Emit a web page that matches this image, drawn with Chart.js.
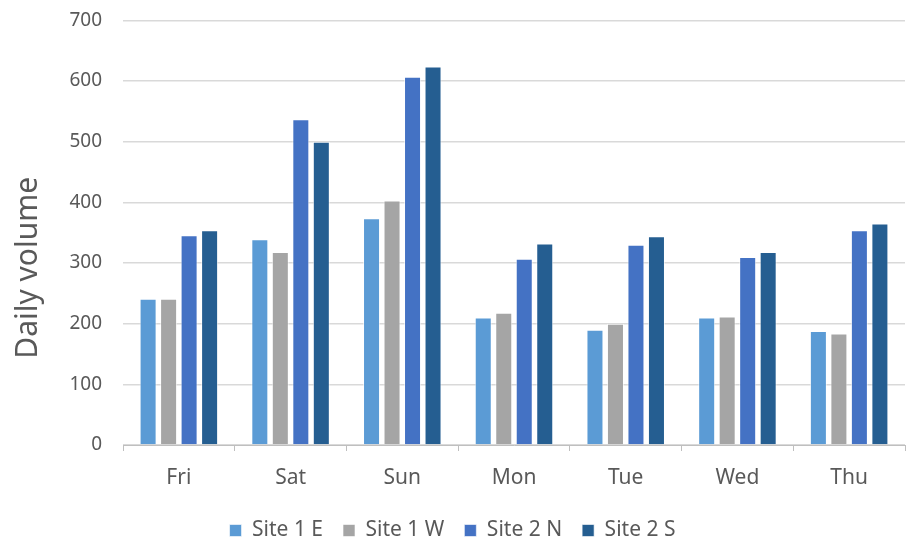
<!DOCTYPE html>
<html>
<head>
<meta charset="utf-8">
<script src="https://cdn.jsdelivr.net/npm/chart.js@4.4.1/dist/chart.umd.min.js"></script>
<style>
  html, body { margin: 0; padding: 0; background: #fff; }
  #wrap { width: 907px; height: 538px; }
</style>
</head>
<body>
<div id="wrap"><canvas id="chart"></canvas></div>
<script>
const days = ["Fri", "Sat", "Sun", "Mon", "Tue", "Wed", "Thu"];
const site1E = [241, 339, 374, 210, 190, 210, 188];
const site1W = [241, 318, 403, 218, 200, 212, 184];
const site2N = [346, 537, 607, 307, 330, 310, 354];
const site2S = [354, 500, 624, 332, 344, 318, 365];
const yTicks = [0, 100, 200, 300, 400, 500, 600, 700];

const font = "'Noto Sans', 'Open Sans', sans-serif";
const grey = "#595959";

function series(label, data, color) {
  return {
    label: label,
    data: data,
    backgroundColor: color,
    borderColor: "rgba(255,255,255,0.6)",
    borderWidth: 1,
    categoryPercentage: 0.734,
    barPercentage: 0.83
  };
}

new Chart(document.getElementById("chart"), {
  type: "bar",
  data: {
    labels: days,
    datasets: [
      series("Site 1 E", site1E, "#5B9BD5"),
      series("Site 1 W", site1W, "#A5A5A5"),
      series("Site 2 N", site2N, "#4472C4"),
      series("Site 2 S", site2S, "#255E91")
    ]
  },
  options: {
    responsive: true,
    maintainAspectRatio: false,
    animation: false,
    layout: { padding: { top: 0, right: 2, left: 0, bottom: -13 } },
    plugins: {
      tooltip: { enabled: false },
      legend: {
        position: "bottom",
        labels: {
          font: { family: font, size: 21 },
          color: grey,
          boxWidth: 12,
          boxHeight: 12,
          padding: 20
        }
      }
    },
    scales: {
      x: {
        grid: {
          offset: true,
          drawOnChartArea: false,
          color: "#BFBFBF",
          tickLength: 6
        },
        border: { color: "#BFBFBF" },
        ticks: {
          font: { family: font, size: 21 },
          color: grey,
          padding: 14
        },
        afterFit: s => { s.height = 55; }
      },
      y: {
        min: 0,
        max: 700,
        afterBuildTicks: s => { s.ticks = yTicks.map(v => ({ value: v })); },
        grid: { color: "#D9D9D9", lineWidth: 1.5, tickLength: 12, tickColor: "rgba(0,0,0,0)" },
        border: { display: false },
        ticks: {
          font: { family: font, size: 19 },
          color: grey,
          padding: 9
        },
        title: {
          display: true,
          // trailing spaces push the rotated title down, as in the original
          text: "Daily volume         ",
          font: { family: font, size: 30 },
          color: grey,
          padding: { top: 10, bottom: 10 }
        },
        afterFit: s => { s.width = 123; }
      }
    }
  }
});
</script>
</body>
</html>
